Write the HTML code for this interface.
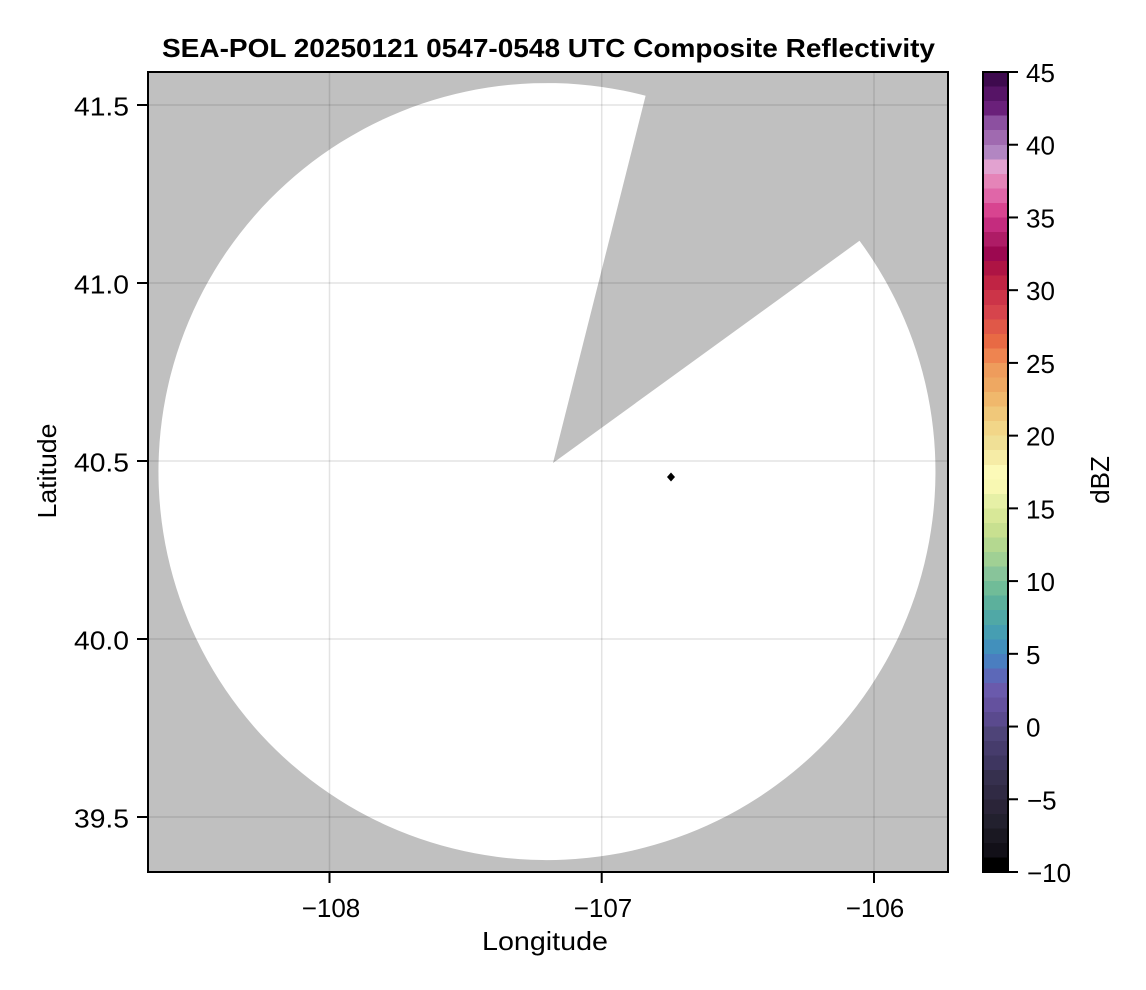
<!DOCTYPE html>
<html>
<head>
<meta charset="utf-8">
<style>
  html,body{margin:0;padding:0;background:#ffffff;}
  svg{display:block;}
  text{font-family:"Liberation Sans", Arial, sans-serif;fill:#000;}
</style>
</head>
<body>
<svg width="1146" height="990" viewBox="0 0 1146 990" xmlns="http://www.w3.org/2000/svg">
  <rect x="0" y="0" width="1146" height="990" fill="#ffffff"/>

  <!-- Title -->
  <text x="548.5" y="57" text-anchor="middle" font-size="26" font-weight="bold" textLength="773" lengthAdjust="spacingAndGlyphs">SEA-POL 20250121 0547-0548 UTC Composite Reflectivity</text>

  <!-- Plot area background (gray) -->
  <rect x="148" y="72" width="800" height="800" fill="#c0c0c0"/>

  <!-- White radar coverage: circle minus wedge -->
  <path d="M 553 463 L 859.5 240.8 A 388.5 388.5 0 1 1 645.6 95.8 Z" fill="#ffffff"/>

  <!-- Gridlines -->
  <g stroke="#000" stroke-opacity="0.11" stroke-width="1.5">
    <line x1="329.5" y1="72" x2="329.5" y2="872"/>
    <line x1="601.7" y1="72" x2="601.7" y2="872"/>
    <line x1="874" y1="72" x2="874" y2="872"/>
    <line x1="148" y1="105" x2="948" y2="105"/>
    <line x1="148" y1="283" x2="948" y2="283"/>
    <line x1="148" y1="461" x2="948" y2="461"/>
    <line x1="148" y1="639" x2="948" y2="639"/>
    <line x1="148" y1="817" x2="948" y2="817"/>
  </g>

  <!-- Radar marker -->
  <polygon points="671,472.5 675,477 671,481.5 667,477" fill="#000"/>

  <!-- Axis frame -->
  <rect x="148" y="72" width="800" height="800" fill="none" stroke="#000" stroke-width="2"/>

  <!-- Ticks -->
  <g stroke="#000" stroke-width="2">
    <line x1="329.5" y1="872" x2="329.5" y2="883"/>
    <line x1="601.7" y1="872" x2="601.7" y2="883"/>
    <line x1="874" y1="872" x2="874" y2="883"/>
    <line x1="137" y1="105" x2="148" y2="105"/>
    <line x1="137" y1="283" x2="148" y2="283"/>
    <line x1="137" y1="461" x2="148" y2="461"/>
    <line x1="137" y1="639" x2="148" y2="639"/>
    <line x1="137" y1="817" x2="148" y2="817"/>
  </g>

  <g font-size="26" text-anchor="middle">
    <text x="331" y="917">−108</text>
    <text x="603" y="917">−107</text>
    <text x="875" y="917">−106</text>
  </g>
  <g font-size="26" text-anchor="end">
    <text x="129" y="115.5" textLength="55" lengthAdjust="spacingAndGlyphs">41.5</text>
    <text x="129" y="293.5" textLength="55" lengthAdjust="spacingAndGlyphs">41.0</text>
    <text x="129" y="471.5" textLength="55" lengthAdjust="spacingAndGlyphs">40.5</text>
    <text x="129" y="649.5" textLength="55" lengthAdjust="spacingAndGlyphs">40.0</text>
    <text x="129" y="827.5" textLength="55" lengthAdjust="spacingAndGlyphs">39.5</text>
  </g>

  <!-- Axis labels -->
  <text x="545" y="950" text-anchor="middle" font-size="26" textLength="126" lengthAdjust="spacingAndGlyphs">Longitude</text>
  <text transform="translate(56,471) rotate(-90)" x="0" y="0" text-anchor="middle" font-size="26" textLength="95" lengthAdjust="spacingAndGlyphs">Latitude</text>

  <!-- Colorbar -->
  <g shape-rendering="crispEdges">
    <rect x="983" y="857.45" width="25" height="14.6" fill="#000000"/>
    <rect x="983" y="842.91" width="25" height="14.6" fill="#121018"/>
    <rect x="983" y="828.36" width="25" height="14.6" fill="#1a1822"/>
    <rect x="983" y="813.82" width="25" height="14.6" fill="#22202e"/>
    <rect x="983" y="799.27" width="25" height="14.6" fill="#2a2438"/>
    <rect x="983" y="784.73" width="25" height="14.6" fill="#302a44"/>
    <rect x="983" y="770.18" width="25" height="14.6" fill="#36304e"/>
    <rect x="983" y="755.64" width="25" height="14.6" fill="#3e3660"/>
    <rect x="983" y="741.09" width="25" height="14.6" fill="#463c6c"/>
    <rect x="983" y="726.55" width="25" height="14.6" fill="#4e4478"/>
    <rect x="983" y="712.00" width="25" height="14.6" fill="#5a4a8e"/>
    <rect x="983" y="697.45" width="25" height="14.6" fill="#64519e"/>
    <rect x="983" y="682.91" width="25" height="14.6" fill="#6a5aac"/>
    <rect x="983" y="668.36" width="25" height="14.6" fill="#5c68b8"/>
    <rect x="983" y="653.82" width="25" height="14.6" fill="#4a7ec0"/>
    <rect x="983" y="639.27" width="25" height="14.6" fill="#4290bc"/>
    <rect x="983" y="624.73" width="25" height="14.6" fill="#469eb2"/>
    <rect x="983" y="610.18" width="25" height="14.6" fill="#50a8a6"/>
    <rect x="983" y="595.64" width="25" height="14.6" fill="#5cb09c"/>
    <rect x="983" y="581.09" width="25" height="14.6" fill="#70bc98"/>
    <rect x="983" y="566.55" width="25" height="14.6" fill="#88c49a"/>
    <rect x="983" y="552.00" width="25" height="14.6" fill="#a0d094"/>
    <rect x="983" y="537.45" width="25" height="14.6" fill="#b4d890"/>
    <rect x="983" y="522.91" width="25" height="14.6" fill="#c8e090"/>
    <rect x="983" y="508.36" width="25" height="14.6" fill="#d8e898"/>
    <rect x="983" y="493.82" width="25" height="14.6" fill="#e6f0a6"/>
    <rect x="983" y="479.27" width="25" height="14.6" fill="#f8f8b2"/>
    <rect x="983" y="464.73" width="25" height="14.6" fill="#fcfab8"/>
    <rect x="983" y="450.18" width="25" height="14.6" fill="#f6eca6"/>
    <rect x="983" y="435.64" width="25" height="14.6" fill="#f0e096"/>
    <rect x="983" y="421.09" width="25" height="14.6" fill="#f2d688"/>
    <rect x="983" y="406.55" width="25" height="14.6" fill="#f0c87a"/>
    <rect x="983" y="392.00" width="25" height="14.6" fill="#f0b86c"/>
    <rect x="983" y="377.45" width="25" height="14.6" fill="#eea862"/>
    <rect x="983" y="362.91" width="25" height="14.6" fill="#ee9c5c"/>
    <rect x="983" y="348.36" width="25" height="14.6" fill="#ee8450"/>
    <rect x="983" y="333.82" width="25" height="14.6" fill="#e86a44"/>
    <rect x="983" y="319.27" width="25" height="14.6" fill="#e05848"/>
    <rect x="983" y="304.73" width="25" height="14.6" fill="#d6444c"/>
    <rect x="983" y="290.18" width="25" height="14.6" fill="#cc3448"/>
    <rect x="983" y="275.64" width="25" height="14.6" fill="#c02444"/>
    <rect x="983" y="261.09" width="25" height="14.6" fill="#ae1444"/>
    <rect x="983" y="246.55" width="25" height="14.6" fill="#9c0850"/>
    <rect x="983" y="232.00" width="25" height="14.6" fill="#ae1c66"/>
    <rect x="983" y="217.45" width="25" height="14.6" fill="#c42c7e"/>
    <rect x="983" y="202.91" width="25" height="14.6" fill="#d84490"/>
    <rect x="983" y="188.36" width="25" height="14.6" fill="#e066a8"/>
    <rect x="983" y="173.82" width="25" height="14.6" fill="#e584b8"/>
    <rect x="983" y="159.27" width="25" height="14.6" fill="#e2a2d0"/>
    <rect x="983" y="144.73" width="25" height="14.6" fill="#b286c2"/>
    <rect x="983" y="130.18" width="25" height="14.6" fill="#a06ab0"/>
    <rect x="983" y="115.64" width="25" height="14.6" fill="#8c50a0"/>
    <rect x="983" y="101.09" width="25" height="14.6" fill="#6a207a"/>
    <rect x="983" y="86.55" width="25" height="14.6" fill="#561466"/>
    <rect x="983" y="72.00" width="25" height="14.6" fill="#3e0a4e"/>
  </g>
  <rect x="983" y="72" width="25" height="800" fill="none" stroke="#000" stroke-width="2"/>

  <!-- Colorbar ticks -->
  <g stroke="#000" stroke-width="2">
    <line x1="1008" y1="72" x2="1018" y2="72"/>
    <line x1="1008" y1="144.73" x2="1018" y2="144.73"/>
    <line x1="1008" y1="217.45" x2="1018" y2="217.45"/>
    <line x1="1008" y1="290.18" x2="1018" y2="290.18"/>
    <line x1="1008" y1="362.91" x2="1018" y2="362.91"/>
    <line x1="1008" y1="435.64" x2="1018" y2="435.64"/>
    <line x1="1008" y1="508.36" x2="1018" y2="508.36"/>
    <line x1="1008" y1="581.09" x2="1018" y2="581.09"/>
    <line x1="1008" y1="653.82" x2="1018" y2="653.82"/>
    <line x1="1008" y1="726.55" x2="1018" y2="726.55"/>
    <line x1="1008" y1="799.27" x2="1018" y2="799.27"/>
    <line x1="1008" y1="872" x2="1018" y2="872"/>
  </g>
  <g font-size="26" text-anchor="start">
    <text x="1026" y="82">45</text>
    <text x="1026" y="154.7">40</text>
    <text x="1026" y="227.5">35</text>
    <text x="1026" y="300.2">30</text>
    <text x="1026" y="372.9">25</text>
    <text x="1026" y="445.6">20</text>
    <text x="1026" y="518.4">15</text>
    <text x="1026" y="591.1">10</text>
    <text x="1026" y="663.8">5</text>
    <text x="1026" y="736.5">0</text>
    <text x="1027" y="809.3">−5</text>
    <text x="1027" y="882">−10</text>
  </g>

  <!-- Colorbar label -->
  <text transform="translate(1109,480) rotate(-90)" x="0" y="0" text-anchor="middle" font-size="26">dBZ</text>
</svg>
</body>
</html>
